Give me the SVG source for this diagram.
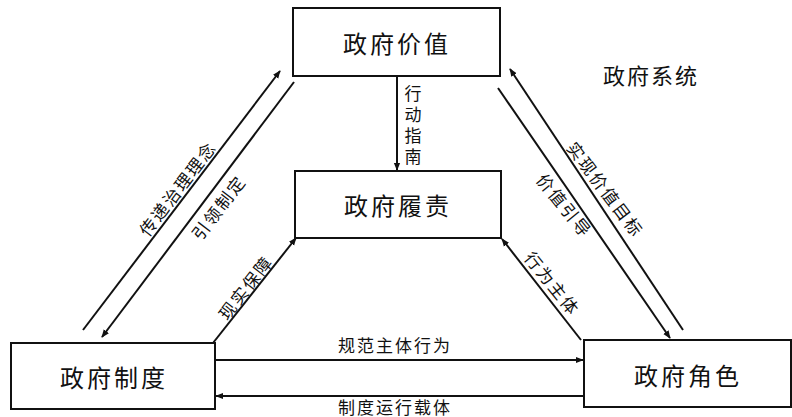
<svg xmlns="http://www.w3.org/2000/svg" width="792" height="417" viewBox="0 0 792 417">
<style>
.box{fill:#fff;stroke:#111;stroke-width:2}
.bt{font-family:"Noto Sans CJK SC","Liberation Sans",sans-serif;font-size:24px;letter-spacing:3px;fill:#111;text-anchor:middle;dominant-baseline:central}
.lb{font-family:"Noto Sans CJK SC","Liberation Sans",sans-serif;font-size:17px;letter-spacing:2px;fill:#111;text-anchor:middle;dominant-baseline:central}
.vt{writing-mode:vertical-rl;letter-spacing:4px;dominant-baseline:auto}
.ln{stroke:#111;stroke-width:2;fill:none}
</style>
<defs>
<marker id="ah" viewBox="0 0 10 10" refX="9" refY="5" markerWidth="4" markerHeight="4" orient="auto-start-reverse" markerUnits="strokeWidth">
<path d="M0,1 L10,5 L0,9 z" fill="#111"/>
</marker>
</defs>
<rect width="792" height="417" fill="#fff"/>
<g id="connectors">
<line class="ln" x1="397" y1="76" x2="397" y2="170" marker-end="url(#ah)"/>
<line class="ln" x1="83" y1="330" x2="280" y2="71" marker-end="url(#ah)"/>
<line class="ln" x1="294" y1="82" x2="102" y2="337" marker-end="url(#ah)"/>
<line class="ln" x1="213" y1="343" x2="296" y2="238" marker-end="url(#ah)"/>
<line class="ln" x1="683" y1="330" x2="510" y2="69" marker-end="url(#ah)"/>
<line class="ln" x1="498" y1="88" x2="670" y2="338" marker-end="url(#ah)"/>
<line class="ln" x1="581" y1="340" x2="502" y2="239" marker-end="url(#ah)"/>
<line class="ln" x1="215" y1="360" x2="583" y2="360" marker-end="url(#ah)"/>
<line class="ln" x1="584" y1="396" x2="216" y2="396" marker-end="url(#ah)"/>
<text class="lb vt" x="413" y="127">行动指南</text>
<text class="lb" transform="translate(177,188) rotate(-52.5)">传递治理理念</text>
<text class="lb" transform="translate(218,207) rotate(-52.5)">引领制定</text>
<text class="lb" transform="translate(245,287) rotate(-52)">现实保障</text>
<text class="lb" transform="translate(606,189) rotate(53)">实现价值目标</text>
<text class="lb" transform="translate(565,205) rotate(51)">价值引导</text>
<text class="lb" transform="translate(553,283) rotate(51)">行为主体</text>
<text class="lb" x="395" y="344">规范主体行为</text>
<text class="lb" x="395" y="406">制度运行载体</text>
</g>
<g id="n-value">
<rect class="box" x="293" y="8" width="207" height="68"/>
<text class="bt" x="397" y="42">政府价值</text>
</g>
<g id="n-duty">
<rect class="box" x="295" y="171" width="206" height="67"/>
<text class="bt" x="398" y="204">政府履责</text>
</g>
<g id="n-system">
<rect class="box" x="11" y="343" width="204" height="66"/>
<text class="bt" x="114" y="376">政府制度</text>
</g>
<g id="n-role">
<rect class="box" x="584" y="340" width="207" height="67"/>
<text class="bt" x="688" y="374">政府角色</text>
</g>
<g id="title">
<text class="bt" x="651" y="74" style="font-size:22px;letter-spacing:2px">政府系统</text>
</g>
</svg>
